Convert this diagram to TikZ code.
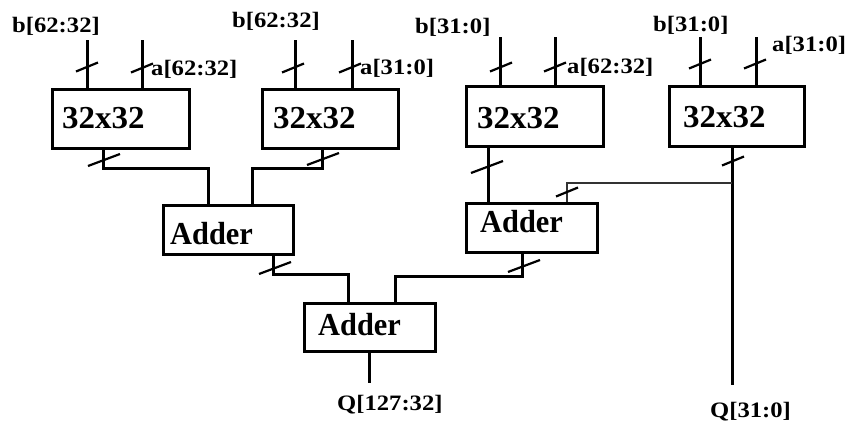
\documentclass[tikz,border=0pt]{standalone}
\usepackage{fontspec}
\setmainfont{Liberation Serif}
\usetikzlibrary{calc}
\begin{document}
\begin{tikzpicture}[x=1pt,y=-1pt,
  wire/.style={line width=3pt},
  thinwire/.style={line width=2pt, black!80},
  box/.style={draw, line width=3pt, inner sep=0pt, anchor=north west},
  tickline/.style={line width=2.2pt},
  boxtxt/.style={font=\fontsize{32}{32}\selectfont\bfseries, inner sep=0pt, anchor=base west},
  lbl/.style={font=\fontsize{22}{22}\selectfont\bfseries, inner sep=0pt, anchor=base west},
  tk/.pic={\draw[tickline] (-11,4.5) -- (11,-4.5);},
  tkb/.pic={\draw[tickline] (-16,6) -- (16,-6);}]
\useasboundingbox (0,0) rectangle (849,421);
\fill[white] (0,0) rectangle (849,421);

% multiplier boxes
\node[box, minimum width=137pt, minimum height=59pt] (m1) at (51,88) {};
\node[box, minimum width=136pt, minimum height=59pt] (m2) at (261,88) {};
\node[box, minimum width=137pt, minimum height=60pt] (m3) at (465,85) {};
\node[box, minimum width=135pt, minimum height=60pt] (m4) at (668,85) {};
\node[boxtxt] (m1t) at (62,128) {\scalebox{1.03}[1]{32x32}};
\node[boxtxt] (m2t) at (273,128) {\scalebox{1.03}[1]{32x32}};
\node[boxtxt] (m3t) at (477,128) {\scalebox{1.03}[1]{32x32}};
\node[boxtxt] (m4t) at (683,127) {\scalebox{1.03}[1]{32x32}};

% adders
\node[box, minimum width=130pt, minimum height=49pt] (a1) at (162,204) {};
\node[box, minimum width=131pt, minimum height=49pt] (a2) at (465,202) {};
\node[box, minimum width=131pt, minimum height=48pt] (a3) at (303,302) {};
\node[boxtxt] (a1t) at (170,244) {\scalebox{0.95}[1]{Adder}};
\node[boxtxt] (a2t) at (480,232) {\scalebox{0.95}[1]{Adder}};
\node[boxtxt] (a3t) at (318,335) {\scalebox{0.95}[1]{Adder}};

% inputs
\coordinate (m1b) at (87,40);  \coordinate (m1a) at (142,40);
\coordinate (m2b) at (295,40); \coordinate (m2a) at (352,40);
\coordinate (m3b) at (500,37); \coordinate (m3a) at (555,37);
\coordinate (m4b) at (700,37); \coordinate (m4a) at (756,37);
\foreach \c/\m in {m1b/m1,m1a/m1,m2b/m2,m2a/m2,m3b/m3,m3a/m3,m4b/m4,m4a/m4}
  \draw[wire] (\c) -- (\c |- \m.north);
\pic at (87,67) {tk};  \pic at (142,68) {tk};
\pic at (293,68) {tk}; \pic at (350,68) {tk};
\pic at (501,67) {tk}; \pic at (555,67) {tk};
\pic at (700,64) {tk}; \pic at (755,64) {tk};

% input labels
\node[lbl] (lb1) at (12,32) {\scalebox{1.12}[1]{b[62:32]}};
\node[lbl] (la1) at (151,75) {\scalebox{1.12}[1]{a[62:32]}};
\node[lbl] (lb2) at (232,27) {\scalebox{1.12}[1]{b[62:32]}};
\node[lbl] (la2) at (360,74) {\scalebox{1.12}[1]{a[31:0]}};
\node[lbl] (lb3) at (415,33) {\scalebox{1.12}[1]{b[31:0]}};
\node[lbl] (la3) at (567,73) {\scalebox{1.12}[1]{a[62:32]}};
\node[lbl] (lb4) at (653,31) {\scalebox{1.12}[1]{b[31:0]}};
\node[lbl] (la4) at (772,51) {\scalebox{1.12}[1]{a[31:0]}};

% multiplier outputs
\coordinate (j1) at (103,168); \coordinate (j2) at (322,168);
\draw[wire] (j1 |- m1.south) -- (j1) -| ($(a1.north west)+(46,0)$);
\draw[wire] (j2 |- m2.south) -- (j2) -| ($(a1.north west)+(90,0)$);
\draw[wire] ($(m3.south west)+(23,0)$) -- ($(a2.north west)+(23,0)$);
\coordinate (q2) at (732,385); \coordinate (j4) at (732,183);
\draw[wire] (q2 |- m4.south) -- (q2);
\draw[thinwire] (j4) -| ($(a2.north west)+(102,0)$);
\pic at (104,160) {tkb}; \pic at (323,159) {tkb};
\pic at (487,167) {tkb}; \pic at (733,161) {tk};
\pic at (567,192) {tk};

% adder outputs
\coordinate (j5) at (273,274); \coordinate (j6) at (522,276);
\draw[wire] (j5 |- a1.south) -- (j5) -| ($(a3.north west)+(45,0)$);
\draw[wire] (j6 |- a2.south) -- (j6) -| ($(a3.north west)+(92,0)$);
\pic at (275,268) {tkb}; \pic at (524,266) {tkb};
\coordinate (q1) at (369,383);
\draw[wire] (q1 |- a3.south) -- (q1);

% output labels
\node[lbl] (lq1) at (337,410) {\scalebox{1.12}[1]{Q[127:32]}};
\node[lbl] (lq2) at (710,417) {\scalebox{1.12}[1]{Q[31:0]}};
\end{tikzpicture}
\end{document}
